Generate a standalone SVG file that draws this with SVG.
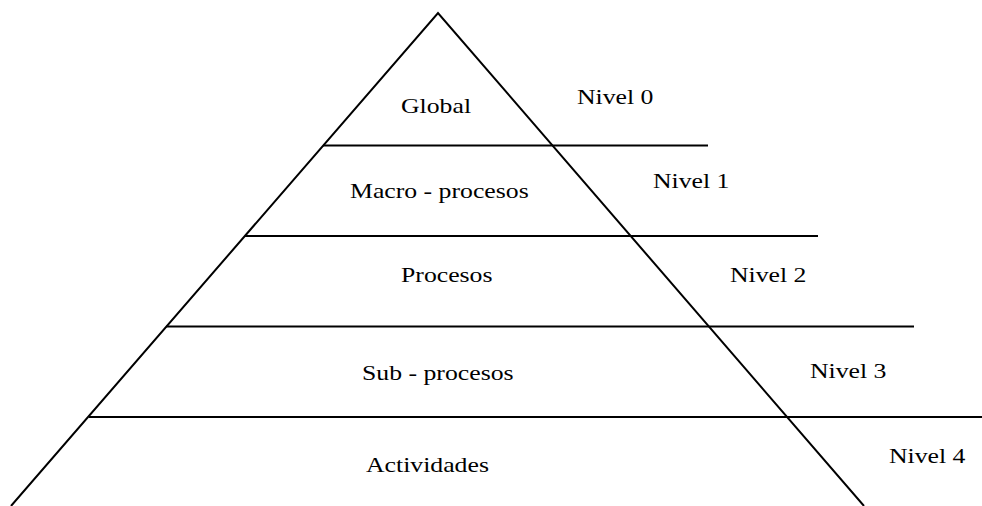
<svg xmlns="http://www.w3.org/2000/svg" width="982" height="506" viewBox="0 0 982 506">
<style>
.ln{stroke:#000;stroke-width:2;fill:none}
.t{font-family:'Liberation Serif','Times New Roman',Times,serif;font-size:22px;fill:#000}
</style>
<rect width="982" height="506" fill="#fff"/>
<g id="pyramid">
<path class="ln" d="M11,506 L438,13 L864,506"/>
</g>
<g id="dividers">
<line class="ln" x1="323" y1="145.5" x2="708" y2="145.5"/>
<line class="ln" x1="245" y1="236" x2="818" y2="236"/>
<line class="ln" x1="166" y1="326.5" x2="914" y2="326.5"/>
<line class="ln" x1="89" y1="417" x2="982" y2="417"/>
</g>
<g id="level0" class="t" font-family="Liberation Serif, serif">
<text transform="translate(401,113) scale(1.17,1)">Global</text>
<text transform="translate(577,104) scale(1.17,1)">Nivel 0</text>
</g>
<g id="level1" class="t" font-family="Liberation Serif, serif">
<text transform="translate(350,198) scale(1.17,1)">Macro - procesos</text>
<text transform="translate(653,188) scale(1.17,1)">Nivel 1</text>
</g>
<g id="level2" class="t" font-family="Liberation Serif, serif">
<text transform="translate(401,282) scale(1.17,1)">Procesos</text>
<text transform="translate(730,282) scale(1.17,1)">Nivel 2</text>
</g>
<g id="level3" class="t" font-family="Liberation Serif, serif">
<text transform="translate(362,380) scale(1.17,1)">Sub - procesos</text>
<text transform="translate(810,378) scale(1.17,1)">Nivel 3</text>
</g>
<g id="level4" class="t" font-family="Liberation Serif, serif">
<text transform="translate(366,472) scale(1.17,1)">Actividades</text>
<text transform="translate(889,463) scale(1.17,1)">Nivel 4</text>
</g>
</svg>
